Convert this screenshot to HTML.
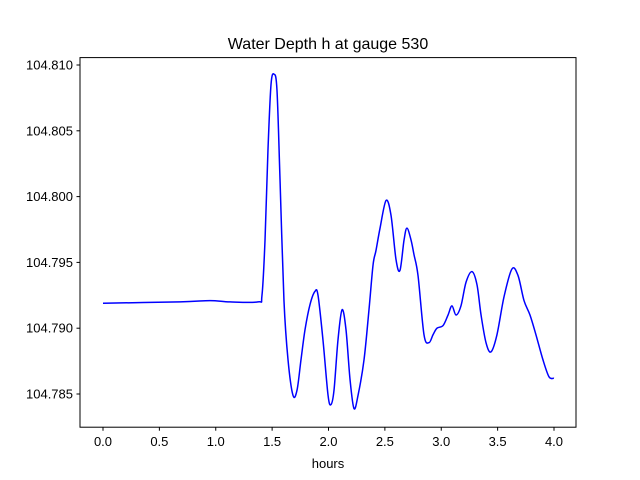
<!DOCTYPE html>
<html><head><meta charset="utf-8"><style>
body{margin:0;background:#fff;}
svg{display:block;font-family:"Liberation Sans","DejaVu Sans",sans-serif;}
</style></head><body>
<svg id="chart" width="640" height="480">
<rect width="640" height="480" fill="#fff"/>
<text x="328" y="49" font-size="16" text-anchor="middle">Water Depth h at gauge 530</text>
<g id="marks"></g>
<rect x="80" y="57.6" width="496" height="369.6" fill="none" stroke="#000" stroke-width="1"/>
<g id="xt"></g><g id="yt"></g>
<text x="328" y="468" font-size="13" text-anchor="middle">hours</text>
</svg>
<script>
const hours=[0,0.683,0.949,1.126,1.375,1.410,1.437,1.463,1.490,1.517,1.543,1.570,1.605,1.641,1.685,1.721,1.756,1.792,1.836,1.880,1.907,1.951,1.996,2.022,2.049,2.084,2.120,2.155,2.191,2.226,2.262,2.315,2.359,2.395,2.421,2.457,2.510,2.554,2.599,2.634,2.670,2.696,2.732,2.758,2.794,2.847,2.891,2.927,2.962,3.016,3.060,3.095,3.131,3.175,3.220,3.273,3.317,3.353,3.397,3.441,3.494,3.557,3.627,3.681,3.734,3.787,3.840,3.902,3.956,4.0];
const depth=[104.7919,104.7920,104.7921,104.7920,104.7920,104.7925,104.7967,104.8035,104.8085,104.8093,104.8081,104.8013,104.7921,104.7876,104.7849,104.7853,104.7876,104.7899,104.7918,104.7928,104.7925,104.7891,104.7849,104.7842,104.7853,104.7891,104.7914,104.7899,104.7861,104.7839,104.7849,104.7876,104.7914,104.7948,104.7959,104.7976,104.7997,104.7986,104.7952,104.7944,104.7967,104.7976,104.7967,104.7956,104.7940,104.7895,104.7889,104.7895,104.7900,104.7902,104.7910,104.7917,104.7910,104.7917,104.7935,104.7943,104.7933,104.7910,104.7889,104.7882,104.7895,104.7924,104.7945,104.7940,104.7921,104.7910,104.7895,104.7876,104.7863,104.7862];
const xTicks=[0,0.5,1,1.5,2,2.5,3,3.5,4];
const xTickLabels=["0.0","0.5","1.0","1.5","2.0","2.5","3.0","3.5","4.0"];
const yTicks=[104.785,104.790,104.795,104.800,104.805,104.810];
const yTickLabels=["104.785","104.790","104.795","104.800","104.805","104.810"];
const NS="http://www.w3.org/2000/svg";
const X=v=>103+(v)*112.75;
const Y=v=>394-(v-104.785)*13160;
const pts=hours.map((h,i)=>[X(h),Y(depth[i])]);
let d="M"+pts[0][0]+","+pts[0][1];
for(let i=0;i<pts.length-1;i++){
 const p0=pts[Math.max(0,i-1)],p1=pts[i],p2=pts[i+1],p3=pts[Math.min(pts.length-1,i+2)];
 const c1=[p1[0]+(p2[0]-p0[0])/6,p1[1]+(p2[1]-p0[1])/6];
 const c2=[p2[0]-(p3[0]-p1[0])/6,p2[1]-(p3[1]-p1[1])/6];
 d+=" C"+c1+" "+c2+" "+p2;
}
const path=document.createElementNS(NS,"path");
path.setAttribute("d",d);path.setAttribute("fill","none");path.setAttribute("stroke","#0000ff");path.setAttribute("stroke-width","1.5");


document.getElementById("marks").appendChild(path);
const xt=document.getElementById("xt");
xTicks.forEach((t,i)=>{
 const l=document.createElementNS(NS,"line");
 l.setAttribute("x1",X(t));l.setAttribute("x2",X(t));l.setAttribute("y1",427.2);l.setAttribute("y2",430.7);l.setAttribute("stroke","#000");
 
 
 xt.appendChild(l);
 const tx=document.createElementNS(NS,"text");
 tx.setAttribute("x",X(t));tx.setAttribute("y",446);tx.setAttribute("font-size","13");tx.setAttribute("text-anchor","middle");
 tx.textContent=xTickLabels[i];
 
 
 xt.appendChild(tx);
});
const yt=document.getElementById("yt");
yTicks.forEach((t,i)=>{
 const l=document.createElementNS(NS,"line");
 l.setAttribute("x1",76.5);l.setAttribute("x2",80);l.setAttribute("y1",Y(t));l.setAttribute("y2",Y(t));l.setAttribute("stroke","#000");
 
 
 yt.appendChild(l);
 const tx=document.createElementNS(NS,"text");
 tx.setAttribute("x",73);tx.setAttribute("y",Y(t)+4.5);tx.setAttribute("font-size","13");tx.setAttribute("text-anchor","end");
 tx.textContent=yTickLabels[i];
 
 
 yt.appendChild(tx);
});
</script>
</body></html>
